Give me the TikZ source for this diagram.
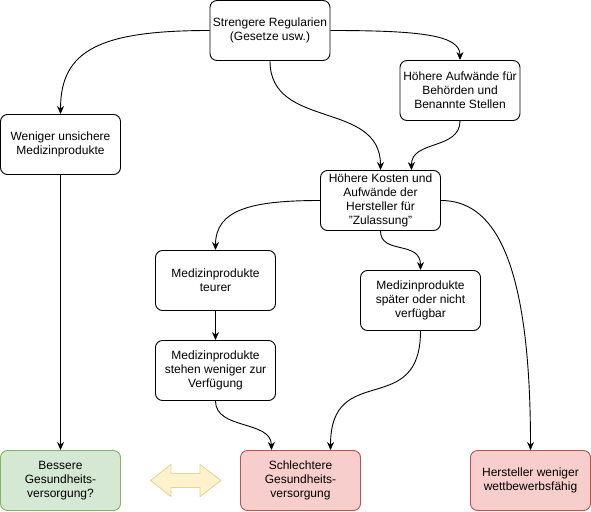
\documentclass[tikz,border=0pt]{standalone}
\usepackage{fontspec}
\setmainfont{Liberation Sans}
\usetikzlibrary{arrows.meta}
\definecolor{gfill}{HTML}{D5E8D4}
\definecolor{gdraw}{HTML}{82B366}
\definecolor{rfill}{HTML}{F8CECC}
\definecolor{rdraw}{HTML}{B85450}
\definecolor{yfill}{HTML}{FFF2CC}
\definecolor{ydraw}{HTML}{E6D496}
\tikzset{
  box/.style={draw=black, line width=0.9pt, rounded corners=7pt, fill=white,
    minimum width=120pt, minimum height=60pt, inner sep=0pt,
    align=center, font=\fontsize{12}{14}\selectfont},
  gbox/.style={box, fill=gfill, draw=gdraw},
  rbox/.style={box, fill=rfill, draw=rdraw},
  conn/.style={draw=black, line width=0.9pt,
    -{Stealth[length=8pt,width=7pt,inset=2.5pt]}},
  dblarrow/.style={draw=ydraw, fill=yfill, line width=0.9pt, line join=round},
}
\begin{document}
\begin{tikzpicture}[x=1pt,y=-1pt]
\useasboundingbox (0,0) rectangle (591,511);
\node[box] (S) at (270,30.5) {Strengere Regularien\\(Gesetze usw.)};
\node[box] (A) at (460,90.5) {Höhere Aufwände für\\Behörden und\\Benannte Stellen};
\node[box] (W) at (60.5,144.5) {Weniger unsichere\\Medizinprodukte};
\node[box] (K) at (380.5,200.5) {Höhere Kosten und\\Aufwände der\\Hersteller für\\\symbol{34}Zulassung\symbol{34}};
\node[box] (T) at (215.5,280.5) {Medizinprodukte\\teurer};
\node[box] (L) at (420.5,300.5) {Medizinprodukte\\später oder nicht\\verfügbar};
\node[box] (St) at (215.5,370.5) {Medizinprodukte\\stehen weniger zur\\Verfügung};
\node[gbox] (B) at (60.5,480.5) {Bessere\\Gesundheits-\\versorgung?};
\node[rbox] (Sc) at (300.5,480.5) {Schlechtere\\Gesundheits-\\versorgung};
\node[rbox] (H) at (530.5,480.5) {Hersteller weniger\\wettbewerbsfähig};
\path[dblarrow] (150.5,480.5) -- (171,464.5) -- (171,473.5) -- (200,473.5)
  -- (200,464.5) -- (221,480.5) -- (200,496.5) -- (200,487.5) -- (171,487.5)
  -- (171,496.5) -- cycle;

\draw[conn] (S.west) .. controls (100,30.5) and (60.5,50) .. (W.north);
\draw[conn] (S.east) .. controls (420,30.5) and (460,35) .. (A.north);
\draw[conn] (S.south) .. controls (270,130) and (380.5,100) .. (K.north);
\draw[conn] (A.south) .. controls (460,150) and (411,140) .. ([xshift=31pt]K.north);
\draw[conn] (K.west) .. controls (250,200.5) and (215.5,210) .. (T.north);
\draw[conn] (K.south) .. controls (380.5,255) and (420.5,240) .. (L.north);
\draw[conn] (K.east) .. controls (490,200.5) and (530.5,250) .. (H.north);
\draw[conn] (T.south) -- (St.north);
\draw[conn] (St.south) .. controls (215.5,430) and (271,420) .. ([xshift=-29pt]Sc.north);
\draw[conn] (L.south) .. controls (420.5,420) and (330.5,360) .. ([xshift=30pt]Sc.north);
\draw[conn] (W.south) -- (B.north);
\end{tikzpicture}
\end{document}
